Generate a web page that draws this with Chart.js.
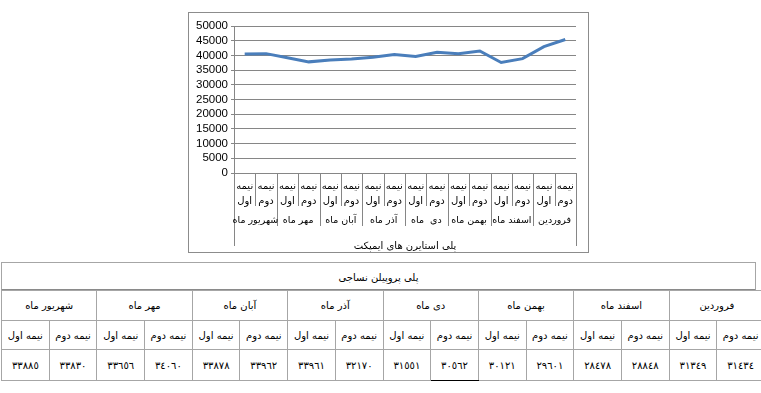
<!DOCTYPE html>
<html lang="fa">
<head>
<meta charset="utf-8">
<script src="https://cdn.jsdelivr.net/npm/chart.js@4.4.1/dist/chart.umd.min.js"></script>
<style>
body{margin:0;background:#fff;width:761px;height:393px;overflow:hidden;position:relative;font-family:"DejaVu Sans",sans-serif;}
#box{position:absolute;left:188px;top:12px;width:399px;height:239px;border:1px solid #8c8c8c;}
#box canvas{display:block}
#ttl{position:absolute;left:1px;top:262px;width:753px;height:26px;border:1px solid #a6a6a6;border-bottom:2px solid #8a8a8a;font-size:10px;text-align:center;line-height:30px;}
table{position:absolute;left:1px;top:290px;border-collapse:collapse;table-layout:fixed;width:764px;font-size:10px;}
td{border:1px solid #a6a6a6;text-align:center;padding:0;white-space:nowrap;overflow:hidden;color:#000}
tr.m td{height:29px}
tr.h td{height:28px}
tr.v td{height:30px}
td.sel{border-left:1px solid #000;border-bottom:1px solid #000}
</style>
</head>
<body>
<div id="box"><canvas id="c" width="399" height="239"></canvas></div>
<div id="ttl">پلی پروپیلن نساجی</div>
<table id="t"></table>
<script>
// months, left to right as in the picture
const months = ['شهریور ماه', 'مهر ماه', 'آبان ماه', 'آذر ماه', 'دی  ماه', 'بهمن ماه', 'اسفند ماه', 'فروردین']
const halves = ['اول', 'دوم']
// پلی استایرن های ایمپکت (chart)
const impactValues = [40500, 40600, 39200, 37800, 38400, 38800, 39400, 40300,
                      39600, 41100, 40600, 41500, 37600, 38900, 43000, 45400]
// پلی پروپیلن نساجی (table)
const textileValues = [33885, 33830, 33656, 34060, 33878, 33962, 33961, 32170,
                       31551, 30562, 30121, 29601, 28478, 28848, 31349, 31434]
const yTicks = {min: 0, max: 50000, step: 5000}

const labels = []
months.forEach(() => halves.forEach(h => labels.push(['نیمه', h])))

const fa = n => String(n).replace(/\d/g, d => '٠١٢٣٤٥٦٧٨٩'[d])

// table
const t = document.getElementById('t')
let html = '<tr class="m">' + months.map(m => '<td colspan="2">' + m + '</td>').join('') + '</tr>'
html += '<tr class="h">' + labels.map(l => '<td>' + l.join(' ') + '</td>').join('') + '</tr>'
html += '<tr class="v">' + textileValues.map((v, i) => '<td' + (i === 9 ? ' class="sel"' : '') + '>' + fa(v) + '</td>').join('') + '</tr>'
t.innerHTML = html

const grey = '#868686'
const groups = {
    id: 'groups',
    afterDraw(chart) {
        const ctx = chart.ctx
        const x = chart.scales.x
        const top = chart.chartArea.bottom
        const n = labels.length
        const w = (chart.chartArea.right - chart.chartArea.left) / n
        ctx.save()
        ctx.strokeStyle = grey
        ctx.lineWidth = 1
        for (let b = 0; b <= n; b++) {
            const px = Math.round(chart.chartArea.left + b * w) + 0.5
            const end = (b === 0 || b === n) ? 233 : (b % 2 === 0 ? 213 : 193)
            ctx.beginPath()
            ctx.moveTo(px, top)
            ctx.lineTo(px, end)
            ctx.stroke()
        }
        ctx.fillStyle = '#000'
        ctx.font = '9.5px "DejaVu Sans"'
        ctx.textAlign = 'center'
        ctx.textBaseline = 'middle'
        months.forEach((m, i) => {
            const cx = (x.getPixelForValue(2 * i) + x.getPixelForValue(2 * i + 1)) / 2
            ctx.fillText(m, cx, 208)
        })
        ctx.restore()
    }
}

new Chart(document.getElementById('c'), {
    type: 'line',
    data: {
        labels: labels,
        datasets: [{
            data: impactValues,
            borderColor: '#4a7ebb',
            borderWidth: 3,
            pointRadius: 0,
            tension: 0,
            fill: false
        }]
    },
    options: {
        responsive: false,
        animation: false,
        layout: {padding: {top: 13, right: 12, left: 0, bottom: 0}},
        plugins: {legend: {display: false}, tooltip: {enabled: false}},
        scales: {
            x: {
                offset: true,
                grid: {display: false, drawTicks: false},
                border: {display: true, color: grey},
                ticks: {autoSkip: false, maxRotation: 0, padding: 5.5, color: '#000',
                        font: {family: 'DejaVu Sans', size: 10, lineHeight: 1.5}},
                title: {display: true, text: 'پلی استایرن های ایمپکت', color: '#000',
                        font: {family: 'DejaVu Sans', size: 10, lineHeight: 1.2},
                        padding: {top: 7, bottom: 0}},
                afterFit(s) { s.height = 79 }
            },
            y: {
                min: yTicks.min,
                max: yTicks.max,
                grid: {color: grey, tickLength: 3},
                border: {color: grey},
                ticks: {stepSize: yTicks.step, autoSkip: false, padding: 3, color: '#000',
                        font: {family: 'Liberation Sans', size: 11.5},
                        callback: v => String(v)},
                afterFit(s) { s.width = 45 }
            }
        }
    },
    plugins: [groups]
})
</script>
</body>
</html>
